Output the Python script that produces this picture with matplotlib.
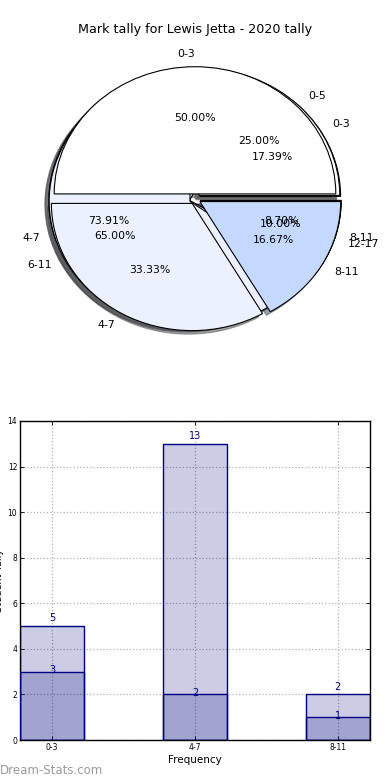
import matplotlib
matplotlib.use("Agg")
import matplotlib.pyplot as plt
import numpy as np

# ---- data ----
title = "Mark tally for Lewis Jetta - 2020 tally"
pie_c_labels = ["0-3", "4-7", "8-11"]
pie_c_values = [4, 17, 2]
pie_b_labels = ["0-5", "6-11", "12-17"]
pie_b_values = [5, 13, 2]
pie_a_labels = ["0-3", "4-7", "8-11"]
pie_a_values = [3, 2, 1]

bar_categories = ["0-3", "4-7", "8-11"]
bar_light = [5, 13, 2]
bar_dark = [3, 2, 1]
bar_xlabel = "Frequency"
bar_ylabel = "Student Tally"
watermark = "Dream-Stats.com"

pie_colors = ["#FFFFFF", "#EBF1FF", "#C5D9FF"]

fig = plt.figure(figsize=(3.9, 7.8), dpi=100)

# ---- pie chart ----
ax1 = fig.add_axes([19 / 390, 1 - 358 / 780, 352 / 390, 318 / 780])
for labels, vals in [(pie_c_labels, pie_c_values),
                     (pie_b_labels, pie_b_values),
                     (pie_a_labels, pie_a_values)]:
    ax1.pie(vals, labels=labels, colors=pie_colors, explode=[0.04] * len(vals),
            autopct="%1.2f%%", shadow=True, startangle=0,
            wedgeprops=dict(edgecolor="black", linewidth=0.8),
            textprops=dict(fontsize=7.8))
ax1.set_aspect("auto")
ax1.set_xlim(-1.25, 1.25)
ax1.set_ylim(-1.25, 1.25)
fig.text(0.5, 1 - 30 / 780, title, ha="center", va="center", fontsize=9.2)

# ---- bar chart ----
ax2 = fig.add_axes([20 / 390, 1 - 740 / 780, 350 / 390, 319 / 780])
x = np.arange(len(bar_categories))
w = 0.45
fc = (0, 0, 0.5, 0.2)
ax2.bar(x, bar_light, width=w, color=fc, edgecolor="navy", linewidth=1, zorder=2)
ax2.bar(x, bar_dark, width=w, color=fc, edgecolor="navy", linewidth=1, zorder=3)
for xi, v in zip(x, bar_light):
    ax2.annotate(str(v), (xi, v), xytext=(0, 2), textcoords="offset points",
                 ha="center", va="bottom", fontsize=7, color="navy", zorder=5)
for xi, v in zip(x, bar_dark):
    ax2.annotate(str(v), (xi, v), xytext=(0, 1), textcoords="offset points",
                 ha="center", va="center", fontsize=7, color="navy", zorder=5)
ax2.set_xlim(-w / 2, len(x) - 1 + w / 2)
ax2.set_ylim(0, 14)
ax2.set_yticks(np.arange(0, 15, 2))
ax2.set_xticks(x)
ax2.set_xticklabels(bar_categories)
ax2.tick_params(labelsize=5.5, direction="in", top=True, right=True, length=3, width=0.6, pad=2)
ax2.grid(True, linestyle=":", color="#b0b0b0", linewidth=0.9, zorder=0)
ax2.set_axisbelow(True)
for s in ax2.spines.values():
    s.set_linewidth(1)
ax2.set_xlabel(bar_xlabel, fontsize=7.5, labelpad=2)
ax2.set_ylabel(bar_ylabel, fontsize=7)
ax2.yaxis.set_label_coords(-0.047, 0.5)

fig.text(0.0, 1 - 770 / 780, watermark, ha="left", va="center", fontsize=8.5, color="#999999")

fig.savefig("out.png", dpi=100)
